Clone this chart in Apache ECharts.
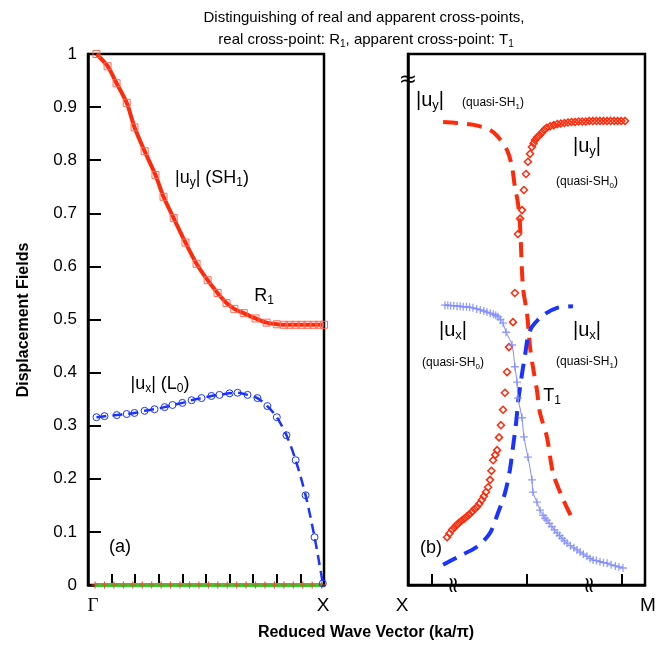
<!DOCTYPE html>
<html>
<head>
<meta charset="utf-8">
<script src="https://cdn.jsdelivr.net/npm/echarts@6/dist/echarts.min.js"></script>
<style>
  html, body { margin: 0; padding: 0; background: #fff; }
  #chart { width: 669px; height: 648px; }
</style>
</head>
<body>
<div id="chart"></div>
<script>
// ---- panel (a): Gamma -> X ----
const aUyX = [0.036, 0.083, 0.121, 0.164, 0.197, 0.24, 0.286, 0.32, 0.363, 0.413, 0.46, 0.507, 0.549, 0.587, 0.62, 0.66, 0.71, 0.757, 0.8, 0.83, 0.854, 0.88, 0.905, 0.93, 0.956, 0.98, 1.0];
const aUy  = [1.0, 0.977, 0.945, 0.908, 0.862, 0.817, 0.772, 0.731, 0.691, 0.645, 0.605, 0.574, 0.55, 0.531, 0.52, 0.512, 0.502, 0.494, 0.491, 0.49, 0.49, 0.49, 0.49, 0.49, 0.49, 0.49, 0.49];
const aUxX = [0.036, 0.07, 0.122, 0.164, 0.197, 0.24, 0.282, 0.325, 0.358, 0.4, 0.439, 0.481, 0.523, 0.557, 0.6, 0.634, 0.676, 0.718, 0.76, 0.8, 0.841, 0.88, 0.922, 0.96, 0.995];
const aUx  = [0.316, 0.318, 0.32, 0.322, 0.324, 0.328, 0.331, 0.335, 0.339, 0.343, 0.348, 0.352, 0.356, 0.358, 0.361, 0.362, 0.358, 0.352, 0.337, 0.316, 0.282, 0.235, 0.169, 0.09, 0.003];
const aUzX = [0.03, 0.07, 0.11, 0.15, 0.19, 0.23, 0.27, 0.31, 0.35, 0.39, 0.43, 0.47, 0.51, 0.55, 0.59, 0.63, 0.67, 0.71, 0.75, 0.79, 0.83, 0.87, 0.91, 0.95, 0.99];
const aUz  = [0, 0, 0, 0, 0, 0, 0, 0, 0, 0, 0, 0, 0, 0, 0, 0, 0, 0, 0, 0, 0, 0, 0, 0, 0];

// ---- panel (b): X -> M ----
const bUyDashX = [0.148, 0.207, 0.283, 0.346, 0.38, 0.418, 0.439, 0.451, 0.464, 0.473, 0.485, 0.502, 0.515, 0.527, 0.544, 0.557, 0.586, 0.612, 0.65, 0.696];
const bUyDash  = [0.872, 0.870, 0.866, 0.857, 0.844, 0.819, 0.787, 0.750, 0.719, 0.674, 0.561, 0.512, 0.448, 0.411, 0.367, 0.324, 0.279, 0.211, 0.166, 0.122];
const bUyDiaX = [0.165, 0.175, 0.186, 0.195, 0.205, 0.215, 0.226, 0.237, 0.248, 0.259,
                 0.270, 0.281, 0.291, 0.301, 0.311, 0.320, 0.329, 0.338, 0.346, 0.352,
                 0.359, 0.368, 0.376, 0.384, 0.392, 0.401, 0.409, 0.418, 0.426, 0.443,
                 0.451, 0.464, 0.473, 0.481, 0.489, 0.498, 0.506, 0.515, 0.523, 0.530,
                 0.536, 0.545, 0.555, 0.565, 0.575, 0.585, 0.600, 0.615, 0.630, 0.645,
                 0.660, 0.675, 0.690, 0.705, 0.720, 0.735, 0.750, 0.765, 0.780, 0.795,
                 0.810, 0.825, 0.840, 0.855, 0.870, 0.885, 0.900, 0.916];
const bUyDia  = [0.090, 0.097, 0.104, 0.108, 0.113, 0.117, 0.121, 0.125, 0.129, 0.133,
                 0.138, 0.143, 0.147, 0.153, 0.160, 0.167, 0.175, 0.184, 0.198, 0.215,
                 0.235, 0.245, 0.254, 0.278, 0.301, 0.330, 0.362, 0.401, 0.448, 0.495,
                 0.550, 0.661, 0.690, 0.706, 0.744, 0.774, 0.797, 0.812, 0.825, 0.832,
                 0.838, 0.843, 0.847, 0.852, 0.857, 0.861, 0.864, 0.866, 0.868, 0.869,
                 0.870, 0.871, 0.872, 0.872, 0.873, 0.873, 0.873, 0.874, 0.874, 0.874,
                 0.874, 0.874, 0.874, 0.874, 0.874, 0.874, 0.874, 0.874];
const bUxPlusX = [0.156, 0.168, 0.18, 0.193, 0.207, 0.22, 0.233, 0.247, 0.26, 0.274,
                  0.29, 0.305, 0.32, 0.333, 0.347, 0.36, 0.37, 0.38, 0.39, 0.401,
                  0.414, 0.439, 0.451, 0.46, 0.464, 0.481, 0.489, 0.506, 0.523, 0.527,
                  0.544, 0.557, 0.57, 0.578, 0.586, 0.596, 0.607, 0.618, 0.629, 0.64,
                  0.65, 0.66, 0.671, 0.685, 0.7, 0.713, 0.726, 0.74, 0.755, 0.768,
                  0.781, 0.795, 0.81, 0.825, 0.84, 0.857, 0.875, 0.89, 0.907];
const bUxPlus  = [0.527, 0.527, 0.526, 0.526, 0.525, 0.525, 0.524, 0.524, 0.523, 0.522,
                  0.520, 0.518, 0.516, 0.514, 0.512, 0.510, 0.508, 0.505, 0.500, 0.493,
                  0.476, 0.452, 0.411, 0.382, 0.352, 0.315, 0.279, 0.241, 0.198, 0.175,
                  0.156, 0.141, 0.131, 0.126, 0.122, 0.116, 0.110, 0.104, 0.098, 0.093,
                  0.088, 0.083, 0.079, 0.074, 0.070, 0.066, 0.062, 0.058, 0.054, 0.050,
                  0.047, 0.046, 0.044, 0.042, 0.041, 0.038, 0.036, 0.034, 0.032];
const bUxDashX = [0.148, 0.211, 0.291, 0.346, 0.38, 0.409, 0.43, 0.443, 0.456, 0.464, 0.473, 0.485, 0.494, 0.506, 0.523, 0.57, 0.629, 0.696];
const bUxDash  = [0.038, 0.053, 0.072, 0.098, 0.136, 0.173, 0.217, 0.260, 0.305, 0.343, 0.373, 0.409, 0.433, 0.467, 0.486, 0.508, 0.522, 0.525];

const bTicks = [0.1, 0.5, 0.9];

const zip = (xs, ys) => xs.map((x, i) => [x, ys[i]]);

const RED = "#ff2a0a";
const RED_LIGHT = "#ff6a5a";
const BLUE = "#1a33ff";
const BLUE_LIGHT = "#7f8cff";
const GREEN = "#33cc33";
const FONT = "Liberation Sans";
const PLUS = "path://M0,4.2H10V5.8H0ZM4.2,0H5.8V10H4.2Z";

function txt(x, y, rich, size, extra) {
  return Object.assign({
    type: "text",
    x: x,
    y: y,
    style: {
      text: rich,
      fontSize: size,
      fontFamily: FONT,
      fill: "#000",
      align: "center",
      verticalAlign: "middle",
      rich: { s: { fontSize: Math.round(size * 0.65), padding: [Math.round(size * 0.55), 0, 0, 0], fontFamily: FONT, fill: "#000" } },
    },
    z: 100,
  }, extra || {});
}
function plain(x, y, s, size, family, weight, rot) {
  return {
    type: "text", x: x, y: y, rotation: rot || 0, z: 100,
    style: { text: s, fontSize: size, fontFamily: family || FONT, fontWeight: weight || "normal", fill: "#000", align: "center", verticalAlign: "middle" },
  };
}

const chart = echarts.init(document.getElementById("chart"), null, { renderer: "canvas" });

const option = {
  backgroundColor: "#fff",
  animation: false,
  grid: [
    { left: 88, top: 54, width: 236, height: 531, show: true, borderColor: "#000", borderWidth: 2.5 },
    { left: 408, top: 54, width: 237, height: 531, show: true, borderColor: "#000", borderWidth: 2.5 },
  ],
  xAxis: [
    {
      gridIndex: 0, type: "value", min: 0, max: 1, interval: 0.1,
      axisLine: { show: true, lineStyle: { color: "#000", width: 2.5 } },
      axisTick: { show: true, inside: true, length: 11, lineStyle: { color: "#000", width: 2 } },
      axisLabel: { show: false },
      splitLine: { show: false },
    },
    {
      gridIndex: 1, type: "value", min: 0, max: 1,
      axisLine: { show: true, lineStyle: { color: "#000", width: 2.5 } },
      axisTick: { show: true, inside: true, length: 11, customValues: bTicks, lineStyle: { color: "#000", width: 2 } },
      axisLabel: { show: false },
      splitLine: { show: false },
    },
  ],
  yAxis: [
    {
      gridIndex: 0, type: "value", min: 0, max: 1, interval: 0.1,
      axisLine: { show: true, lineStyle: { color: "#000", width: 2.5 } },
      axisTick: { show: true, inside: true, length: 13, lineStyle: { color: "#000", width: 2 } },
      axisLabel: {
        fontSize: 17, color: "#000", fontFamily: FONT, margin: 11,
        formatter: (v) => String(parseFloat(v.toFixed(1))),
      },
      splitLine: { show: false },
    },
    {
      gridIndex: 1, type: "value", min: 0, max: 1,
      axisLine: { show: true, lineStyle: { color: "#000", width: 2.5 } },
      axisTick: { show: false },
      axisLabel: { show: false },
      splitLine: { show: false },
    },
  ],
  series: [
    // (a) green |uz| line with + markers
    {
      type: "line", xAxisIndex: 0, yAxisIndex: 0, data: zip(aUzX, aUz),
      lineStyle: { color: GREEN, width: 4 }, symbol: PLUS, symbolSize: 7,
      itemStyle: { color: "#e8502a" }, z: 3,
    },
    // (a) |uy| SH1
    {
      type: "line", xAxisIndex: 0, yAxisIndex: 0, data: zip(aUyX, aUy), smooth: 0.3,
      lineStyle: { color: RED, width: 4 }, symbol: "rect", symbolSize: 7,
      itemStyle: { color: "transparent", borderColor: RED_LIGHT, borderWidth: 1 }, z: 4,
    },
    // (a) |ux| L0
    {
      type: "line", xAxisIndex: 0, yAxisIndex: 0, data: zip(aUxX, aUx), smooth: 0.3,
      lineStyle: { color: BLUE, width: 2.5, type: [10, 6] }, symbol: "circle", symbolSize: 7,
      itemStyle: { color: "transparent", borderColor: BLUE, borderWidth: 1 }, z: 4,
    },
    // (b) |uy| quasi-SH1 dashed
    {
      type: "line", xAxisIndex: 1, yAxisIndex: 1, data: zip(bUyDashX, bUyDash), smooth: 0.3,
      lineStyle: { color: RED, width: 4, type: [15, 9] }, symbol: "none", z: 3,
    },
    // (b) |uy| quasi-SH0 diamonds
    {
      type: "line", xAxisIndex: 1, yAxisIndex: 1, data: zip(bUyDiaX, bUyDia),
      lineStyle: { width: 0 }, symbol: "diamond", symbolSize: 7,
      itemStyle: { color: "transparent", borderColor: RED, borderWidth: 1.5 }, z: 4,
    },
    // (b) |ux| quasi-SH0 plus markers
    {
      type: "line", xAxisIndex: 1, yAxisIndex: 1, data: zip(bUxPlusX, bUxPlus), smooth: 0.3,
      lineStyle: { color: BLUE_LIGHT, width: 1 }, symbol: PLUS, symbolSize: 8,
      itemStyle: { color: BLUE_LIGHT, opacity: 0.85 }, z: 4,
    },
    // (b) |ux| quasi-SH1 dashed
    {
      type: "line", xAxisIndex: 1, yAxisIndex: 1, data: zip(bUxDashX, bUxDash), smooth: 0.3,
      lineStyle: { color: BLUE, width: 4, type: [15, 9] }, symbol: "none", z: 3,
    },
  ],
  graphic: [
    plain(364, 18, "Distinguishing of real and apparent cross-points,", 15),
    txt(366, 40, "real cross-point: R{s|1}, apparent cross-point: T{s|1}", 15),
    txt(212, 178, "|u{s|y}| (SH{s|1})", 18),
    txt(264, 296, "R{s|1}", 18),
    txt(160, 384, "|u{s|x}| (L{s|0})", 18),
    txt(120, 547, "(a)", 18),
    txt(430, 100, "|u{s|y}|", 20),
    txt(493, 103, "(quasi-SH{s|1})", 12),
    txt(587, 146, "|u{s|y}|", 20),
    txt(587, 182, "(quasi-SH{s|0})", 12),
    txt(453, 330, "|u{s|x}|", 20),
    txt(453, 363, "(quasi-SH{s|0})", 12),
    txt(587, 330, "|u{s|x}|", 20),
    txt(587, 362, "(quasi-SH{s|1})", 12),
    txt(552, 396, "T{s|1}", 18),
    txt(431, 548, "(b)", 18),
    // axis-end labels
    plain(93, 606, "Γ", 19, "Liberation Serif"),
    plain(323, 606, "X", 19),
    plain(402, 606, "X", 19),
    plain(648, 606, "M", 19),
    // axis titles
    plain(366, 633, "Reduced Wave Vector (ka/π)", 16, FONT, "bold"),
    plain(24, 320, "Displacement Fields", 16, FONT, "bold", Math.PI / 2),
    // axis break marks
    plain(408, 80, "≈", 22, "DejaVu Sans"),
    plain(454, 585, "≈", 22, "DejaVu Sans", "normal", Math.PI / 2),
    plain(590, 585, "≈", 22, "DejaVu Sans", "normal", Math.PI / 2),
  ],
};

chart.setOption(option);
</script>
</body>
</html>
